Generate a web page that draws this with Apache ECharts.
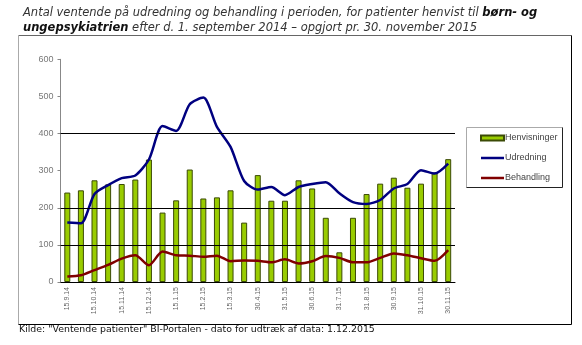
<!DOCTYPE html>
<html>
<head>
<meta charset="utf-8">
<script src="https://cdn.jsdelivr.net/npm/echarts@6/dist/echarts.min.js"></script>
<style>
html,body{margin:0;padding:0;background:#fff;}
#c{width:582px;height:345px;}
</style>
</head>
<body>
<div id="c"></div>
<script>
const categories = ['15.9.14','30.9.14','15.10.14','31.10.14','15.11.14','30.11.14','15.12.14','31.12.14','15.1.15','31.1.15','15.2.15','28.2.15','15.3.15','31.3.15','30.4.15','15.5.15','31.5.15','15.6.15','30.6.15','15.7.15','31.7.15','15.8.15','31.8.15','15.9.15','30.9.15','15.10.15','31.10.15','15.11.15','30.11.15'];
const henvisninger = [241,247,274,263,264,276,330,187,220,303,225,228,247,160,288,219,219,274,252,173,80,173,237,265,281,254,265,295,331];
const udredning = [160,158,237,261,280,287,330,420,407,479,497,418,364,272,249,256,234,256,264,269,239,215,210,221,252,264,301,292,319];
const behandling = [15,18,32,46,63,72,45,82,72,71,68,71,56,58,57,53,61,50,56,70,65,53,53,65,77,72,64,57,86];
const yTicks = [0,100,200,300,400,500,600];
const gridValues = [100,200,400];

const lineIcon = 'path://M0,0L46,0L46,5L0,5Z';
const chart = echarts.init(document.getElementById('c'), null, {renderer:'canvas'});
chart.setOption({
  animation: false,
  backgroundColor: '#fff',
  title: {
    left: 18, top: 1,
    text: '{i|Antal ventende på udredning og behandling i perioden, for patienter henvist til }{b|børn- og}\n{b|ungepsykiatrien}{i| efter d. 1. september 2014 – opgjort pr. 30. november 2015}',
    textStyle: {
      fontWeight: 'normal',
      rich: {
        i: {fontFamily:'DejaVu Sans', fontSize:11.5, fontStyle:'italic', fontWeight:'normal', color:'#333', lineHeight:15},
        b: {fontFamily:'DejaVu Sans', fontSize:11.5, fontStyle:'italic', fontWeight:'bold', color:'#111', lineHeight:15}
      }
    }
  },
  legend: {
    orient: 'vertical',
    left: 480, top: 133,
    padding: 0,
    itemWidth: 23, itemHeight: 5, itemGap: 10,
    textStyle: {fontFamily:'Liberation Sans', fontSize:9, color:'#444', lineHeight:10, padding:[0,0,0,-4]},
    data: [
      {name:'Henvisninger', icon:'rect'},
      {name:'Udredning', icon: lineIcon},
      {name:'Behandling', icon: lineIcon}
    ]
  },
  grid: {left: 60.5, right: 127, top: 59.3, bottom: 63, containLabel:false},
  xAxis: {
    type: 'category',
    data: categories,
    boundaryGap: true,
    axisLine: {lineStyle:{color:'#000', width:1}},
    axisTick: {interval: 1, length: 4, lineStyle:{color:'#000'}},
    axisLabel: {interval: 1, rotate: 90, fontFamily:'Liberation Sans', fontSize: 7, color:'#666', margin: 5}
  },
  yAxis: {
    type: 'value',
    min: yTicks[0], max: yTicks[yTicks.length-1], interval: 100,
    axisLine: {show:true, lineStyle:{color:'#888'}},
    axisTick: {show:true, length:3, lineStyle:{color:'#888'}},
    splitLine: {show:false},
    axisLabel: {fontFamily:'Liberation Sans', fontSize:9, color:'#777', margin:7}
  },
  series: [
    {
      name: 'Henvisninger', type: 'bar', data: henvisninger, barWidth: 6,
      itemStyle: {color:'#99cc00', borderColor:'#3b4a06', borderWidth:1},
      markLine: {
        silent: true, symbol: ['none','none'], label:{show:false},
        lineStyle: {color:'#000', width:1, type:'solid'},
        data: gridValues.map(v => ({yAxis: v}))
      },
      z: 2
    },
    {
      name: 'Udredning', type: 'line', data: udredning, symbol:'none', smooth: 0.25,
      lineStyle: {color:'#000080', width:2.5}, itemStyle:{color:'#000080'}, z: 3
    },
    {
      name: 'Behandling', type: 'line', data: behandling, symbol:'none', smooth: 0.25,
      lineStyle: {color:'#800000', width:2.5}, itemStyle:{color:'#800000'}, z: 3
    }
  ],
  graphic: [
    {type:'line', shape:{x1:18.5,y1:35.5,x2:571.5,y2:35.5}, style:{stroke:'#666', lineWidth:1}, silent:true},
    {type:'line', shape:{x1:18.5,y1:35.5,x2:18.5,y2:324.5}, style:{stroke:'#aaa', lineWidth:1}, silent:true},
    {type:'line', shape:{x1:571.5,y1:35.5,x2:571.5,y2:324.5}, style:{stroke:'#000', lineWidth:1}, silent:true},
    {type:'line', shape:{x1:18.5,y1:324.5,x2:571.5,y2:324.5}, style:{stroke:'#000', lineWidth:1}, silent:true},
    {type:'line', shape:{x1:466.5,y1:127.5,x2:562.5,y2:127.5}, style:{stroke:'#aaa', lineWidth:1}, silent:true},
    {type:'line', shape:{x1:466.5,y1:127.5,x2:466.5,y2:187.5}, style:{stroke:'#aaa', lineWidth:1}, silent:true},
    {type:'line', shape:{x1:562.5,y1:127.5,x2:562.5,y2:187.5}, style:{stroke:'#222', lineWidth:1}, silent:true},
    {type:'line', shape:{x1:466.5,y1:187.5,x2:562.5,y2:187.5}, style:{stroke:'#222', lineWidth:1}, silent:true},
    {type:'text', left:19, top:325, style:{text:'Kilde: "Ventende patienter" BI-Portalen - dato for udtræk af data: 1.12.2015', font:'9.4px "DejaVu Sans"', fill:'#111'}, silent:true}
  ]
});
</script>
</body>
</html>
